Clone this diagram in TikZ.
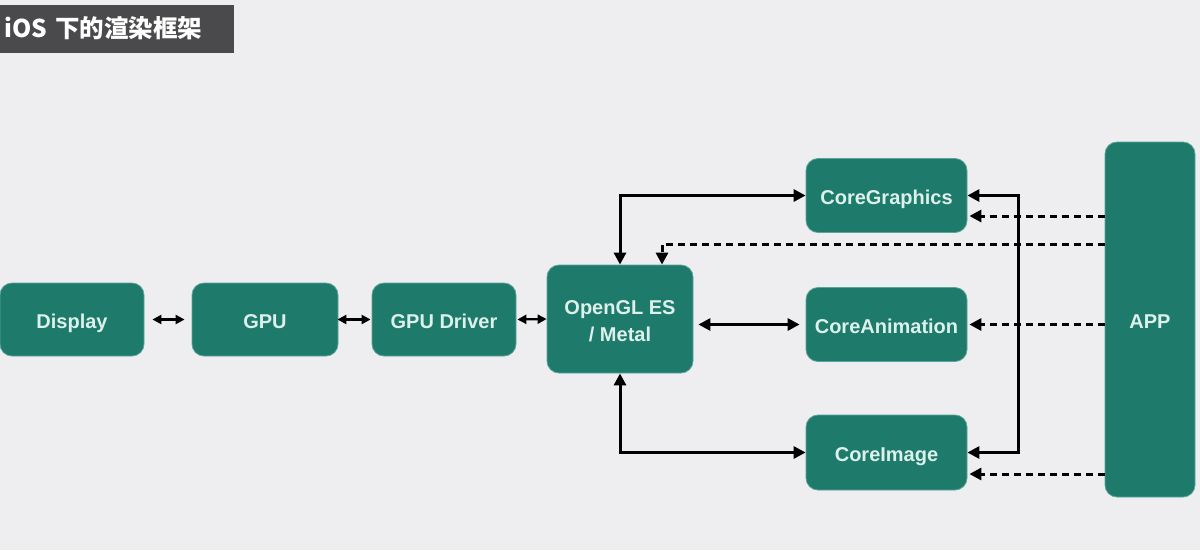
\documentclass[tikz,border=0pt]{standalone}
\usepackage{fontspec}
\setmainfont{Liberation Sans}
\newfontfamily\cjkfont{Noto Sans CJK SC}
\usetikzlibrary{arrows.meta}
\definecolor{bg}{HTML}{EEEEF0}
\definecolor{boxfill}{HTML}{1E7A6B}
\definecolor{boxedge}{HTML}{5AA597}
\definecolor{boxtext}{HTML}{DDF1EC}
\definecolor{titlebg}{HTML}{4A4A4C}
\begin{document}
\begin{tikzpicture}[x=1pt,y=-1pt,
 box/.style={draw=boxedge, line width=0.8pt, fill=boxfill, rounded corners=12pt, text=boxtext, font=\bfseries\fontsize{20}{27}\selectfont, align=center, inner sep=0pt, text height=20pt, text depth=3pt},
 biarrow/.style={line width=3pt, {Triangle[length=12pt,width=12pt]}-{Triangle[length=12pt,width=12pt]}},
 smallarrow/.style={line width=2.2pt, {Triangle[length=9pt,width=9pt]}-{Triangle[length=9pt,width=9pt]}},
 dasharrow/.style={line width=3pt, dash pattern=on 7pt off 5pt, -{Triangle[length=12pt,width=12pt]}},
]
\useasboundingbox (0,0) rectangle (1200,550);
\fill[bg] (0,0) rectangle (1200,550);

\node (title) [fill=titlebg, inner xsep=4pt, inner ysep=0pt, minimum height=48pt, text width=226pt, align=left, anchor=north west, text=white, text height=23pt, text depth=7pt, font=\cjkfont\bfseries\fontsize{24.5}{26}\selectfont] at (0,5) {iOS 下的渲染框架};

\node (disp) [box, minimum width=144pt, minimum height=73pt] at (72,319.5) {Display};
\node (gpu)  [box, minimum width=146pt, minimum height=73pt] at (265,319.5) {GPU};
\node (drv)  [box, minimum width=144pt, minimum height=73pt] at (444,319.5) {GPU Driver};
\node (gl)   [box, minimum width=146pt, minimum height=108pt, text height=45.5pt, text depth=0.5pt] at (620,319) {OpenGL ES\\/ Metal};
\node (cg)   [box, minimum width=161pt, minimum height=74pt] at (886.5,195.5) {CoreGraphics};
\node (ca)   [box, minimum width=161pt, minimum height=74pt] at (886.5,324.5) {CoreAnimation};
\node (ci)   [box, minimum width=161pt, minimum height=75pt] at (886.5,452.5) {CoreImage};
\node (app)  [box, minimum width=90pt, minimum height=355pt] at (1150,319.5) {APP};

\coordinate (ydash) at (0,244);
\coordinate (ycg) at (0,216);
\coordinate (yci) at (0,474);

\draw[smallarrow, shorten <=8pt, shorten >=7pt] (disp.east) -- (gpu.west);
\draw[smallarrow, shorten <=-1pt, shorten >=1pt] (gpu.east) -- (drv.west);
\draw[smallarrow, shorten <=1pt, shorten >=0pt] (drv.east) -- (gl.west);
\draw[biarrow, shorten <=5pt, shorten >=6pt] (gl.east |- ca.west) -- (ca.west);
\draw[biarrow] (gl.north) |- (cg.west);
\draw[biarrow] (gl.south) |- (ci.west);
\draw[biarrow] (cg.east) -- ([xshift=51pt]cg.east) |- (ci.east);

\draw[dasharrow] (app.west |- ydash) -| ([xshift=42pt]gl.north);
\draw[dasharrow, shorten >=2pt] (app.west |- ycg) -- (cg.east |- ycg);
\draw[dasharrow, shorten >=2pt] (app.west |- ca.east) -- (ca.east);
\draw[dasharrow, shorten >=2pt] (app.west |- yci) -- (ci.east |- yci);
\end{tikzpicture}
\end{document}
